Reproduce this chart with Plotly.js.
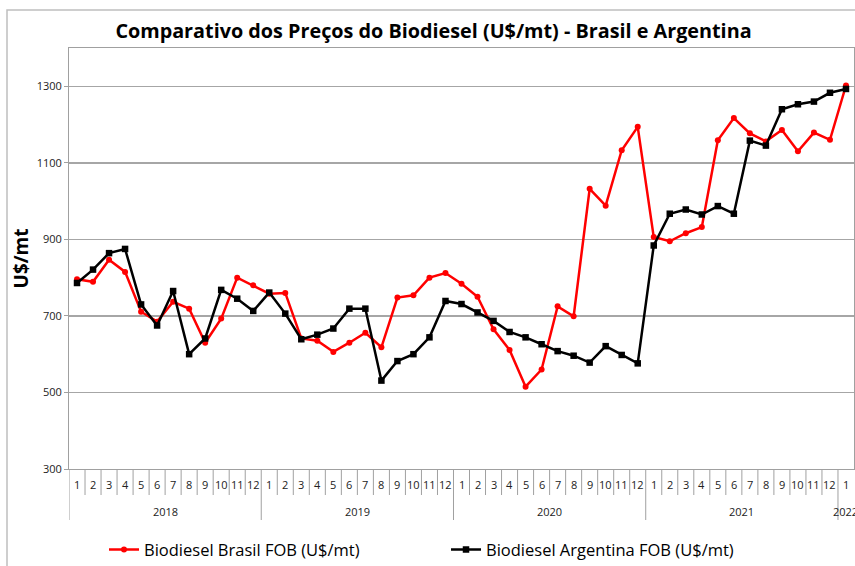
<!DOCTYPE html>
<html>
<head>
<meta charset="utf-8">
<script src="https://cdn.plot.ly/plotly-3.0.1.min.js"></script>
<style>html,body{margin:0;padding:0;background:#fff;}#chart{width:855px;height:566px;}</style>
</head>
<body>
<div id="chart"></div>
<script>
const years = ["2018","2018","2018","2018","2018","2018","2018","2018","2018","2018","2018","2018",
  "2019","2019","2019","2019","2019","2019","2019","2019","2019","2019","2019","2019",
  "2020","2020","2020","2020","2020","2020","2020","2020","2020","2020","2020","2020",
  "2021","2021","2021","2021","2021","2021","2021","2021","2021","2021","2021","2021",
  "2022"];
const months = ["1","2","3","4","5","6","7","8","9","10","11","12",
  "1","2","3","4","5","6","7","8","9","10","11","12",
  "1","2","3","4","5","6","7","8","9","10","11","12",
  "1","2","3","4","5","6","7","8","9","10","11","12",
  "1"];
const brasil = [796, 789, 847, 815, 711, 685, 737, 719, 630, 693, 800, 780,
  758, 760, 641, 635, 606, 630, 656, 618, 748, 754, 800, 812,
  784, 750, 665, 611, 515, 560, 725, 699, 1032, 988, 1133, 1194,
  906, 895, 916, 932, 1159, 1217, 1177, 1156, 1186, 1130, 1179, 1160,
  1302];
const argentina = [786, 821, 864, 875, 730, 675, 765, 600, 641, 768, 745, 713,
  761, 706, 639, 651, 667, 719, 719, 531, 582, 600, 644, 739,
  731, 709, 687, 658, 644, 626, 608, 596, 578, 621, 598, 576,
  884, 967, 978, 965, 987, 967, 1158, 1145, 1240, 1253, 1260, 1283,
  1293];
const yTicks = [300, 500, 700, 900, 1100, 1300];

const fontFam = "'Open Sans', Lato, sans-serif";
const keys = years.map((y, i) => y + "-" + months[i]);
const n = keys.length;

// paper-y helpers (plot area: top 48px, bottom 469px)
const PT = 48, PB = 469, PH = PB - PT;
const py = px => (PB - px) / PH;

const annotations = [];
const shapes = [];
const sepColor = "#a0a0a0";
months.forEach((m, i) => {
  annotations.push({xref: "x", yref: "paper", x: i, y: py(485), text: m, showarrow: false,
    xanchor: "center", yanchor: "middle", font: {family: fontFam, size: 11, color: "#222"}});
});
for (let k = 0; k <= n; k++) {
  const yearBoundary = (k === 0 || k === n || years[k] !== years[k - 1]);
  if (k === n) continue;
  shapes.push({type: "line", xref: "x", yref: "paper", x0: k - 0.5, x1: k - 0.5, y0: 0,
    y1: py(yearBoundary ? 520 : 495), line: {color: sepColor, width: 1}});
}
const uniqYears = [...new Set(years)];
uniqYears.forEach(y => {
  const idx = years.map((v, i) => v === y ? i : -1).filter(i => i >= 0);
  const mid = (idx[0] + idx[idx.length - 1]) / 2;
  annotations.push({xref: "x", yref: "paper", x: mid, y: py(512), text: y, showarrow: false,
    xanchor: "center", yanchor: "middle", font: {family: fontFam, size: 11, color: "#222"}});
});
shapes.push({type: "rect", xref: "paper", yref: "paper", x0: (7 - 69) / 785, x1: (870 - 69) / 785,
  y0: py(600), y1: py(10), line: {color: "#bfbfbf", width: 1.5}, fillcolor: "rgba(0,0,0,0)", layer: "below"});

const traces = [
  {x: keys, y: brasil, type: "scatter", mode: "lines+markers",
   name: "Biodiesel Brasil FOB (U$/mt)",
   line: {color: "#ff0000", width: 2.5}, marker: {color: "#ff0000", size: 6, symbol: "circle"}},
  {x: keys, y: argentina, type: "scatter", mode: "lines+markers",
   name: "Biodiesel Argentina FOB (U$/mt)",
   line: {color: "#000000", width: 2.5}, marker: {color: "#000000", size: 6.5, symbol: "square"}}
];
const layout = {
  width: 855, height: 566,
  margin: {l: 69, r: 1, t: PT, b: 566 - PB, autoexpand: false},
  paper_bgcolor: "#ffffff", plot_bgcolor: "#ffffff",
  font: {family: fontFam, color: "#000"},
  title: {text: "<b>Comparativo dos Preços do Biodiesel (U$/mt) - Brasil e Argentina</b>",
    font: {family: fontFam, size: 19.8, color: "#000"},
    x: 0.507, xref: "container", xanchor: "center", y: 0.945, yref: "container", yanchor: "middle"},
  xaxis: {type: "category", range: [-0.5, n - 0.5], automargin: false, showticklabels: false, ticks: "",
    showgrid: false, showline: true, linecolor: sepColor, linewidth: 1, mirror: true,
    zeroline: false, fixedrange: true},
  yaxis: {range: [300, 1400], automargin: false, tickvals: yTicks, ticktext: yTicks.map(String),
    showgrid: true, gridcolor: "#a6a6a6", gridwidth: 1.5,
    showline: true, linecolor: sepColor, linewidth: 1, mirror: true,
    ticks: "outside", ticklen: 4, tickcolor: sepColor,
    tickfont: {family: fontFam, size: 11, color: "#222"}, zeroline: false,
    title: {text: "<b>U$/mt</b>", font: {family: fontFam, size: 19, color: "#000"}, standoff: 2}},
  showlegend: true,
  legend: {orientation: "h", x: 0.0446, xanchor: "left", y: -0.15, yanchor: "top",
    font: {family: fontFam, size: 16.5, color: "#000"}, entrywidth: 297, entrywidthmode: "pixels",
    itemwidth: 30, bgcolor: "rgba(0,0,0,0)"},
  annotations: annotations,
  shapes: shapes
};
Plotly.newPlot("chart", traces, layout, {displayModeBar: false, staticPlot: true});
</script>
</body>
</html>
